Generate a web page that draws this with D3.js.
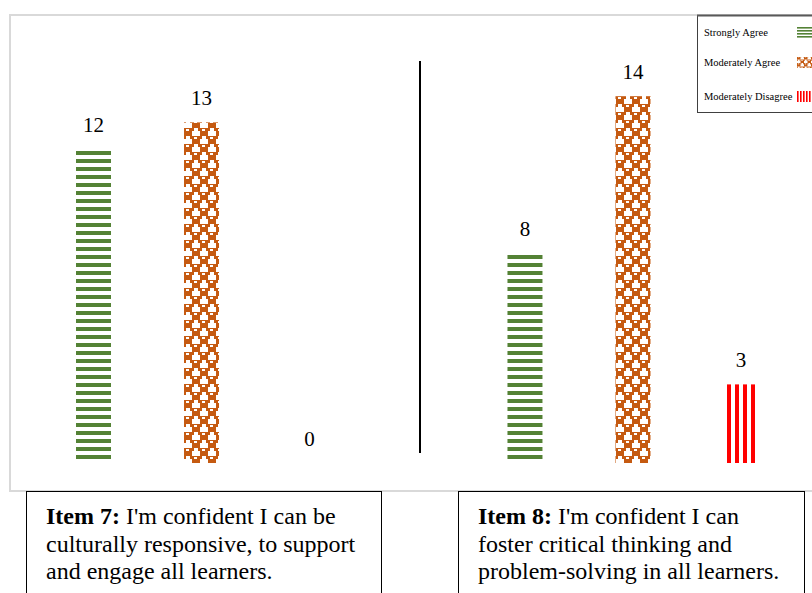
<!DOCTYPE html>
<html>
<head>
<meta charset="utf-8">
<script src="https://cdn.jsdelivr.net/npm/d3@7"></script>
<style>
  html, body { margin: 0; padding: 0; background: #fff; }
  svg { display: block; }
</style>
</head>
<body>
<svg id="chart" width="812" height="593"></svg>
<script>
// Survey items (groups) and response levels (series)
const items = ["Item 7", "Item 8"];
const levels = ["Strongly Agree", "Moderately Agree", "Moderately Disagree"];
const item7Counts = [12, 13, 0];
const item8Counts = [8, 14, 3];
const itemTitles = ["Item 7:", "Item 8:"];
const itemTexts = [
  ["I'm confident I can be", "culturally responsive, to support", "and engage all learners."],
  ["I'm confident I can", "foster critical thinking and", "problem-solving in all learners."]
];

const counts = [item7Counts, item8Counts];
const rows = items.flatMap((it, i) => levels.map((lv, j) => ({ item: it, level: lv, value: counts[i][j] })));

const svg = d3.select("#chart");
const defs = svg.append("defs");
const serif = "'Liberation Serif', 'Times New Roman', serif";

const green = "#548235", orange = "#c55a11", red = "#ff0000";

// Horizontal stripes
function stripesH(id, period, thick, offY) {
  const p = defs.append("pattern").attr("id", id)
    .attr("patternUnits", "userSpaceOnUse").attr("x", 0).attr("y", offY)
    .attr("width", period).attr("height", period);
  p.append("rect").attr("width", period).attr("height", period).attr("fill", "#fff");
  p.append("rect").attr("width", period).attr("height", thick).attr("fill", green);
}
// Vertical stripes
function stripesV(id, period, thick, offX) {
  const p = defs.append("pattern").attr("id", id)
    .attr("patternUnits", "userSpaceOnUse").attr("x", offX).attr("y", 0)
    .attr("width", period).attr("height", period);
  p.append("rect").attr("width", period).attr("height", period).attr("fill", "#fff");
  p.append("rect").attr("width", thick).attr("height", period).attr("fill", red);
}
// Checker of notched orange blocks
function checker(id, cell, offX) {
  const s = cell * 2, u = cell / 8;
  const p = defs.append("pattern").attr("id", id)
    .attr("patternUnits", "userSpaceOnUse").attr("x", offX).attr("y", 0)
    .attr("width", s).attr("height", s);
  p.append("rect").attr("width", s).attr("height", s).attr("fill", "#fff");
  [[0, 0], [cell, cell]].forEach(([x, y]) => {
    p.append("rect").attr("x", x).attr("y", y).attr("width", cell).attr("height", cell)
      .attr("fill", orange);
    p.append("rect").attr("x", x + 2 * u).attr("y", y + u).attr("width", 3 * u).attr("height", 2 * u).attr("fill", "#fff");
  });
  [[cell, 0], [0, cell]].forEach(([x, y]) => {
    p.append("rect").attr("x", x).attr("y", y).attr("width", 2 * u).attr("height", 3 * u).attr("fill", orange);
    p.append("rect").attr("x", x + 6 * u).attr("y", y).attr("width", 2 * u).attr("height", 3 * u).attr("fill", orange);
  });
}

stripesH("p-sa", 8, 4, 7);
checker("p-ma", 8, 184);
stripesV("p-md", 8, 4, 7);
stripesH("l-sa", 3, 1.6, 27);
checker("l-ma", 3.5, 797);
stripesV("l-md", 3, 1.6, 797);

const fills = d3.scaleOrdinal().domain(levels).range(["url(#p-sa)", "url(#p-ma)", "url(#p-md)"]);
const swatchFills = d3.scaleOrdinal().domain(levels).range(["url(#l-sa)", "url(#l-ma)", "url(#l-md)"]);

// Plot frame
svg.append("rect").attr("x", 10).attr("y", 15).attr("width", 820).attr("height", 476)
  .attr("fill", "#fff").attr("stroke", "#d9d9d9").attr("stroke-width", 2);

// Scales
const x0 = d3.scaleBand().domain(items).range([39.5, 795]).paddingInner(0.249).paddingOuter(0);
const x1 = d3.scalePoint().domain(levels).range([0, x0.bandwidth()]).padding(0.5);
const y = d3.scaleLinear().domain([0, 14]).range([463, 96.2]);
const barW = 35;

// Bars
svg.append("g").selectAll("rect").data(rows).join("rect")
  .attr("x", d => x0(d.item) + x1(d.level) - barW / 2)
  .attr("y", d => y(d.value))
  .attr("width", barW)
  .attr("height", d => y(0) - y(d.value))
  .attr("fill", d => fills(d.level));

// Value labels
svg.append("g").selectAll("text").data(rows).join("text")
  .attr("x", d => x0(d.item) + x1(d.level))
  .attr("y", d => y(d.value) - 17)
  .attr("text-anchor", "middle")
  .attr("font-family", serif).attr("font-size", 21).attr("fill", "#000")
  .text(d => d.value);

// Divider between the two items
svg.append("line").attr("x1", 420).attr("x2", 420).attr("y1", 61).attr("y2", 453)
  .attr("stroke", "#000").attr("stroke-width", 2);

// Legend
const lg = svg.append("g");
lg.append("rect").attr("x", 697.5).attr("y", 15.5).attr("width", 130).attr("height", 97)
  .attr("fill", "#fff").attr("stroke", "#404040").attr("stroke-width", 1);
lg.append("line").attr("x1", 697).attr("x2", 812).attr("y1", 15.5).attr("y2", 15.5)
  .attr("stroke", "#595959").attr("stroke-width", 2);
const legendY = [32, 62, 96];
levels.forEach((lv, i) => {
  lg.append("text").attr("x", 704).attr("y", legendY[i] + 4)
    .attr("font-family", serif).attr("font-size", 10.5).attr("fill", "#000").text(lv);
  lg.append("rect").attr("x", 797).attr("y", legendY[i] - 5).attr("width", 16).attr("height", 11)
    .attr("fill", swatchFills(lv));
});

// Item description boxes
const boxX = [26, 458];
const boxW = [355, 346];
items.forEach((it, i) => {
  const g = svg.append("g");
  g.append("rect").attr("x", boxX[i] + 0.5).attr("y", 491.5).attr("width", boxW[i]).attr("height", 120)
    .attr("fill", "#fff").attr("stroke", "#000").attr("stroke-width", 1);
  const t = g.append("text").attr("font-family", serif).attr("font-size", 24).attr("fill", "#000");
  itemTexts[i].forEach((line, k) => {
    const ts = t.append("tspan").attr("x", boxX[i] + 20).attr("y", 524 + k * 27.5);
    if (k === 0) {
      ts.append("tspan").attr("font-weight", "bold").text(itemTitles[i] + " ");
      ts.append("tspan").text(line);
    } else {
      ts.text(line);
    }
  });
});
</script>
</body>
</html>
